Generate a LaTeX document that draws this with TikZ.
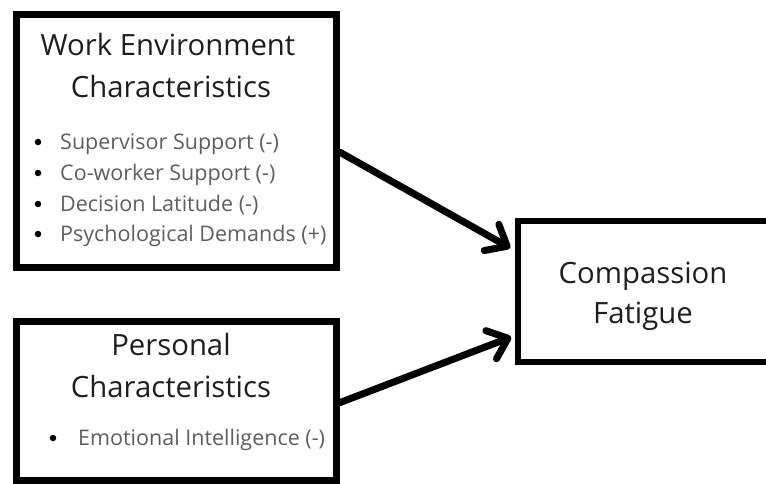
\documentclass[tikz,border=0pt]{standalone}
\usepackage{fontspec}
\setmainfont{Open Sans}
\usepackage{xcolor}
\usetikzlibrary{arrows.meta,calc,positioning}
\definecolor{headgray}{HTML}{1E1E1E}
\definecolor{itemgray}{HTML}{5E5E5E}

\begin{document}
\begin{tikzpicture}[x=1pt, y=-1pt,
  factorbox/.style={draw=black, line width=7pt, inner sep=0pt},
  outcomebox/.style={draw=black, line width=5.5pt, inner sep=0pt},
  headtext/.style={anchor=base, inner sep=0pt, text=headgray, font=\fontsize{29.3}{34}\selectfont},
  itemtext/.style={anchor=base west, inner sep=0pt, text=itemgray, font=\fontsize{21.5}{26}\selectfont},
  dot/.style={circle, fill=black, inner sep=0pt, minimum size=6.5pt},
  flow/.style={line width=7pt, line cap=round,
    -{Straight Barb[length=18pt, width=30pt, line cap=round, line join=round]}}]
\useasboundingbox (0,0) rectangle (766,483);
%%%%% Boxes %%%%%
\node[factorbox, minimum width=319.5pt, minimum height=253pt] (work) at (176.25,141) {};
\node[factorbox, minimum width=319.5pt, minimum height=158.5pt] (personal) at (176.25,400.75) {};
\node[outcomebox, minimum width=252pt, minimum height=141pt] (fatigue) at (644,291.5) {};
%%%%% Work environment %%%%%
\node[headtext] (workA) at (168,55) {Work Environment};
\node[headtext] (workB) at (171,97) {Characteristics};
\node[dot] (d1) at (38,142) {};
\node[dot] (d2) at (38,173) {};
\node[dot] (d3) at (38,204) {};
\node[dot] (d4) at (38,234) {};
\node[itemtext] (i1) at (60,149) {Supervisor Support (-)};
\node[itemtext] (i2) at (60,180) {Co-worker Support (-)};
\node[itemtext] (i3) at (60,211) {Decision Latitude (-)};
\node[itemtext] (i4) at (60,241) {Psychological Demands (+)};
%%%%% Personal %%%%%
\node[headtext] (persA) at (171,355) {Personal};
\node[headtext] (persB) at (171,397) {Characteristics};
\node[dot] (d5) at (53,438) {};
\node[itemtext] (i5) at (78,445) {Emotional Intelligence (-)};
%%%%% Outcome %%%%%
\node[headtext] (compA) at (643,283) {Compassion};
\node[headtext] (compB) at (643,323) {Fatigue};
%%%%% Arrows %%%%%
\draw[flow] ($(work.east)+(0,11)$) -- ($(fatigue.west)+(-5,-43.5)$);
\draw[flow] ($(personal.east)+(0,2)$) -- ($(fatigue.west)+(-4,45.5)$);
\end{tikzpicture}
\end{document}
